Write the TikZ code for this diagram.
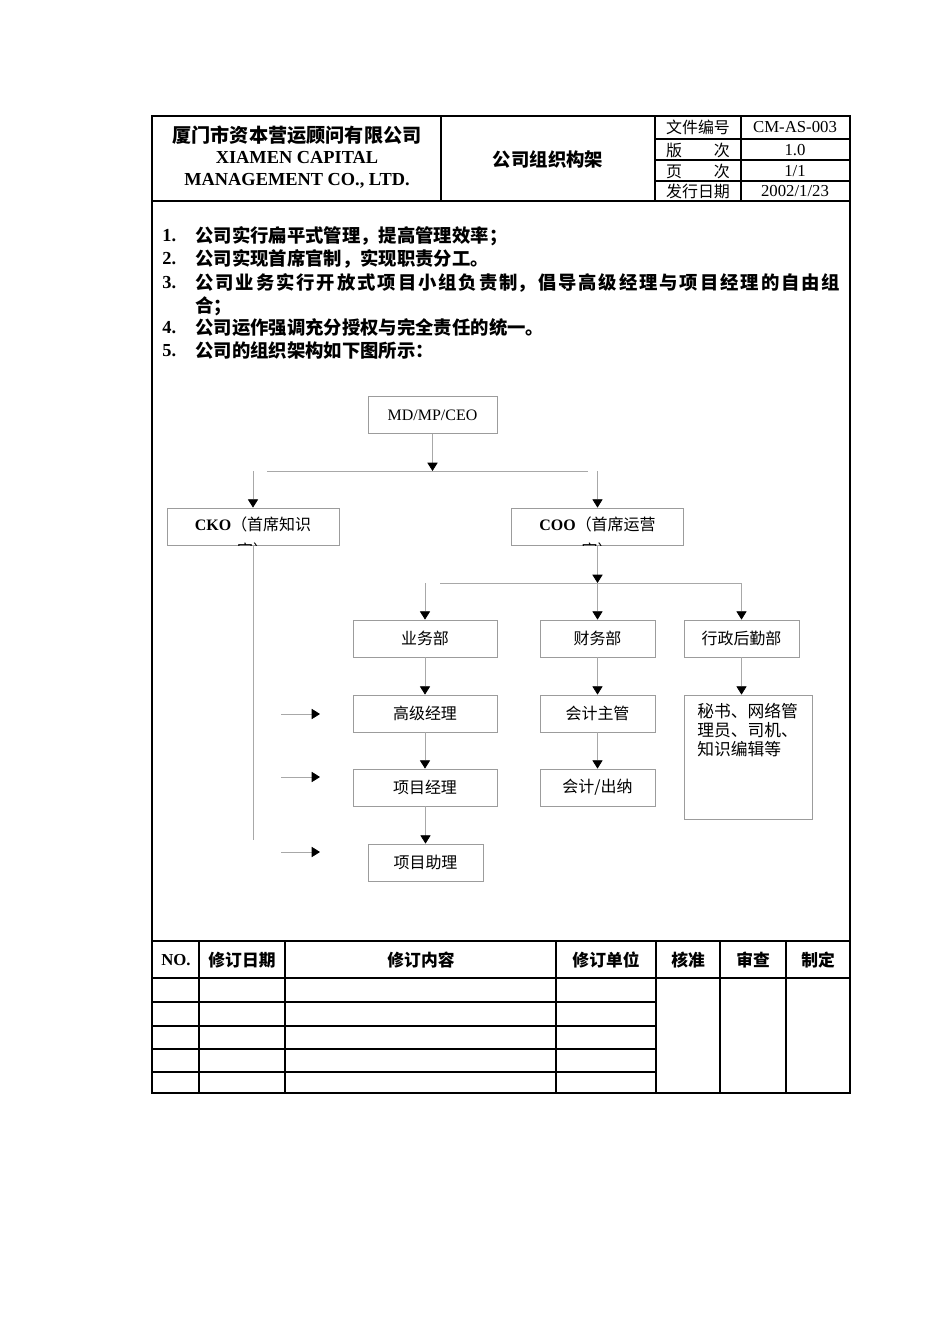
\documentclass[tikz,border=0pt]{standalone}
\usepackage{fontspec}
\usetikzlibrary{arrows.meta, positioning, calc}
\setmainfont{Liberation Serif}
\newfontfamily\cjk{Noto Sans CJK SC}
\XeTeXlinebreaklocale "zh"
\XeTeXlinebreakskip=0pt plus 2pt
\definecolor{orgLine}{HTML}{A8A8A8}
\definecolor{orgBox}{HTML}{9C9C9C}

\begin{document}
\begin{tikzpicture}[
  x=0.022023cm, y=-0.022023cm,
  frame/.style={draw=black, line width=0.7pt},
  orgbox/.style={draw=orgBox, line width=0.5pt, minimum height=0.815cm, inner sep=0pt, align=center, font=\cjk\fontsize{10}{12}\selectfont},
  link/.style={draw=orgLine, line width=0.5pt},
  flow/.style={link, -{Triangle[color=black, length=5.2pt, width=6.4pt]}},
  headcell/.style={inner sep=0pt, font=\cjk\fontsize{10}{12}\selectfont},
  valcell/.style={inner sep=0pt, font=\fontsize{10.5}{12}\selectfont},
  item/.style={anchor=west, inner sep=0pt, font=\cjk\bfseries\fontsize{11.5}{14}\selectfont},
  num/.style={anchor=west, inner sep=0pt, font=\bfseries\fontsize{11.5}{14}\selectfont},
  tabhead/.style={inner sep=0pt, font=\cjk\bfseries\fontsize{10.5}{12}\selectfont}
]
\useasboundingbox[fill=white] (0,0) rectangle (950,1344);

% page frame and header grid
\draw[frame] (152,116) rectangle (850,1093);
\draw[frame] (152,201) -- (850,201);
\draw[frame] (441,116) -- (441,201);
\draw[frame] (655,116) -- (655,201);
\draw[frame] (741,116) -- (741,201);
\foreach \y in {139,160,181}
  \draw[frame] (655,\y) -- (850,\y);

\node[font=\cjk\bfseries\fontsize{12}{14}\selectfont] (firm) at (297,135) {厦门市资本营运顾问有限公司};
\node[font=\bfseries\fontsize{11.5}{13.8}\selectfont, align=center] (firmen) at (297,170) {\bfseries XIAMEN CAPITAL\\\bfseries MANAGEMENT CO., LTD.};
\node[font=\cjk\bfseries\fontsize{11.5}{14}\selectfont] (title) at (548,160) {公司组织构架};

\node[headcell] (docno) at (698,127) {文件编号};
\node[headcell] (ver) at (698,150) {\makebox[40pt][s]{版\hfill 次}};
\node[headcell] (page) at (698,171) {\makebox[40pt][s]{页\hfill 次}};
\node[headcell] (date) at (698,191) {发行日期};
\node[valcell] (docnov) at (795,127) {CM-AS-003};
\node[valcell] (verv) at (795,150) {1.0};
\node[valcell] (pagev) at (795,171) {1/1};
\node[valcell] (datev) at (795,191) {2002/1/23};

% numbered notes
\node[num] (n1) at (162,236) {1.};
\node[item] (t1) at (195,236) {公司实行扁平式管理，提高管理效率；};
\node[num] (n2) at (162,259) {2.};
\node[item] (t2) at (195,259) {公司实现首席官制，实现职责分工。};
\node[num] (n3) at (162,283) {3.};
\node[item, anchor=base west, text width=404pt, align=justify, font=\cjk\bfseries\fontsize{11.5}{13.8}\selectfont] (t3) at (195,290)
  {公司业务实行开放式项目小组负责制，倡导高级经理与项目经理的自由组\linebreak 合；};
\node[num] (n4) at (162,328) {4.};
\node[item] (t4) at (195,328) {公司运作强调充分授权与完全责任的统一。};
\node[num] (n5) at (162,351) {5.};
\node[item] (t5) at (195,351) {公司的组织架构如下图所示：};

% org chart
\node[orgbox, minimum width=2.841cm] (ceo) at (432.5,415) {\rmfamily MD/MP/CEO};
\node[orgbox, minimum width=3.788cm] (cko) at (253,526.5) {};
\node[orgbox, minimum width=3.788cm] (coo) at (597.5,526.5) {};
\begin{scope}
  \clip (cko.south west) rectangle (cko.north east);
  \node[inner sep=0pt, align=center, font=\cjk\fontsize{10}{16}\selectfont] (ckotext) at (253,537.5) {{\rmfamily\bfseries CKO}（首席知识\\官）};
\end{scope}
\begin{scope}
  \clip (coo.south west) rectangle (coo.north east);
  \node[inner sep=0pt, align=center, font=\cjk\fontsize{10}{16}\selectfont] (cootext) at (597.5,537.5) {{\rmfamily\bfseries COO}（首席运营\\官）};
\end{scope}

\node[orgbox, minimum width=3.171cm] (biz) at (425,638.5) {业务部};
\node[orgbox, minimum width=2.533cm] (fin) at (597.5,638.5) {财务部};
\node[orgbox, minimum width=2.533cm] (adm) at (741.5,638.5) {行政后勤部};
\node[orgbox, minimum width=3.171cm] (snr) at (425,713.5) {高级经理};
\node[orgbox, minimum width=2.533cm] (acchead) at (597.5,713.5) {会计主管};
\node[orgbox, minimum width=2.819cm, minimum height=2.731cm] (staff) at (748,757) {};
\node[anchor=north west, inner sep=0pt, align=left, font=\cjk\fontsize{10.5}{12}\selectfont] (stafftext) at (697,703) {秘书、网络管\\理员、司机、\\知识编辑等};
\node[orgbox, minimum width=3.171cm] (pm) at (425,787.5) {项目经理};
\node[orgbox, minimum width=2.533cm] (cashier) at (597.5,787.5) {会计/出纳};
\node[orgbox, minimum width=2.533cm] (asst) at (425.5,862.5) {项目助理};

\coordinate (busL) at (267,471);
\coordinate (busR) at (588,471);
\draw[link] (busL) -- (busR);
\draw[flow] (ceo.south) -- (ceo.south |- busL);
\draw[flow] (cko.north |- busL) -- (cko.north);
\draw[flow] (coo.north |- busL) -- (coo.north);
\coordinate (ckoEnd) at (253,840);
\draw[link] (cko.south) -- (ckoEnd);

\coordinate (busL2) at (440,583);
\coordinate (busR2) at (742,583);
\draw[link] (busL2) -- (busR2);
\draw[flow] (coo.south) -- (coo.south |- busL2);
\draw[flow] (biz.north |- busL2) -- (biz.north);
\draw[flow] (fin.north |- busL2) -- (fin.north);
\draw[flow] (adm.north |- busL2) -- (adm.north);

\draw[flow] (biz) -- (snr);
\draw[flow] (snr) -- (pm);
\draw[flow] (pm.south) -- (pm.south -| asst.north) -- (asst.north);
\draw[flow] (fin) -- (acchead);
\draw[flow] (acchead) -- (cashier);
\draw[flow] (adm.south) -- (adm.south |- staff.north);

\foreach \y [count=\i] in {714,777,852} {
  \coordinate (inS\i) at (281,\y);
  \coordinate (inE\i) at (320,\y);
  \draw[flow] (inS\i) -- (inE\i);
}

% revision table
\draw[frame] (152,941) -- (850,941);
\draw[frame] (152,978) -- (850,978);
\foreach \y in {1002,1026,1049,1072}
  \draw[frame] (152,\y) -- (656,\y);
\foreach \x in {199,285,556,656,720,786}
  \draw[frame] (\x,941) -- (\x,1093);

\node[tabhead, font=\bfseries\fontsize{10.5}{12}\selectfont] (hno) at (176,960) {NO.};
\node[tabhead] (hdate) at (242,960) {修订日期};
\node[tabhead] (hcontent) at (421,960) {修订内容};
\node[tabhead] (hunit) at (606,960) {修订单位};
\node[tabhead] (happrove) at (688,960) {核准};
\node[tabhead] (hreview) at (753,960) {审查};
\node[tabhead] (hmake) at (818,960) {制定};
\end{tikzpicture}
\end{document}
